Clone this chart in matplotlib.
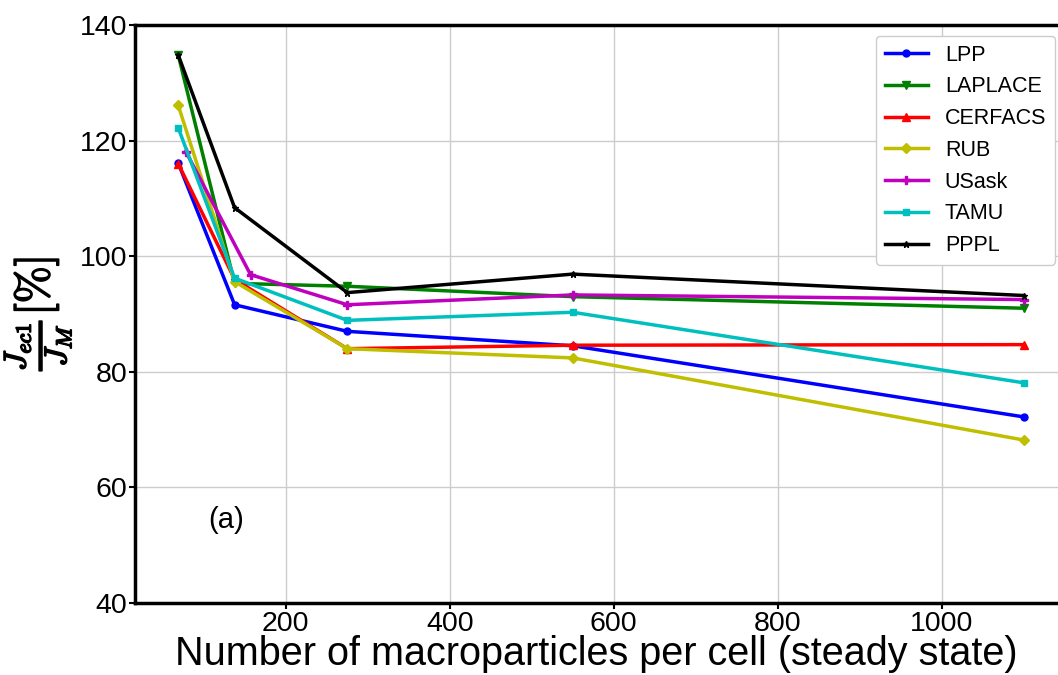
import numpy as np
import matplotlib.pyplot as plt
import matplotlib.patheffects as pe

plt.rcParams['font.family'] = ['Liberation Sans', 'DejaVu Sans']
plt.rcParams['mathtext.fontset'] = 'cm'

# macroparticles per cell
npc = [68.75, 137.5, 275, 550, 1100]
npc_usask = [78, 157, 275, 550, 1100]

lpp = [116.1, 91.6, 87.0, 84.5, 72.2]
laplace = [134.8, 95.3, 94.8, 93.0, 91.0]
cerfacs = [116.0, 96.0, 84.0, 84.6, 84.7]
rub = [126.1, 95.6, 84.0, 82.4, 68.2]
usask = [118.1, 96.8, 91.6, 93.3, 92.5]
tamu = [122.2, 96.2, 88.9, 90.3, 78.1]
pppl = [134.8, 108.4, 93.7, 96.9, 93.2]

fig = plt.figure(figsize=(10.58, 6.75), dpi=100)
ax = fig.add_axes([135/1058, 72/675, 923/1058, 578/675])

lw = 2.5
ax.plot(npc, lpp, 'b-o', lw=lw, ms=5, label='LPP')
ax.plot(npc, laplace, 'g-v', lw=lw, ms=6, label='LAPLACE')
ax.plot(npc, cerfacs, 'r-^', lw=lw, ms=6, label='CERFACS')
ax.plot(npc, rub, '-D', lw=lw, ms=5, label='RUB', color='#bfbf00')
ax.plot(npc_usask, usask, '-P', lw=lw, ms=6, label='USask', color='#bf00bf')
ax.plot(npc, tamu, '-s', lw=lw, ms=5, label='TAMU', color='#00bfbf')
ax.plot(npc, pppl, 'k-*', lw=lw, ms=5, label='PPPL')

ax.set_xlim(16, 1142)
ax.set_ylim(40, 140)
ax.set_xticks([200, 400, 600, 800, 1000])
ax.set_yticks([40, 60, 80, 100, 120, 140])
ax.grid(True, color='#cccccc', lw=1)
ax.set_axisbelow(True)
ax.tick_params(labelsize=20.5, width=1.5, length=4, pad=1.5)
for s in ['left', 'bottom', 'top']:
    ax.spines[s].set_linewidth(2.5)
ax.spines['right'].set_visible(False)

ax.set_xlabel('Number of macroparticles per cell (steady state)', fontsize=28.5, labelpad=-1)
yl = ax.set_ylabel(r'$\frac{J_{ec1}}{J_M}[\%]$', fontsize=32, labelpad=4)
yl.set_path_effects([pe.withStroke(linewidth=1.2, foreground='black')])
ax.text(105, 53, '(a)', fontsize=21)

ax.legend(loc='upper right', bbox_to_anchor=(0.9967, 0.981), borderaxespad=0,
          fontsize=15.5, handlelength=2.0, labelspacing=0.5, framealpha=1,
          edgecolor='#cccccc')

fig.savefig('out.png', dpi=100)
